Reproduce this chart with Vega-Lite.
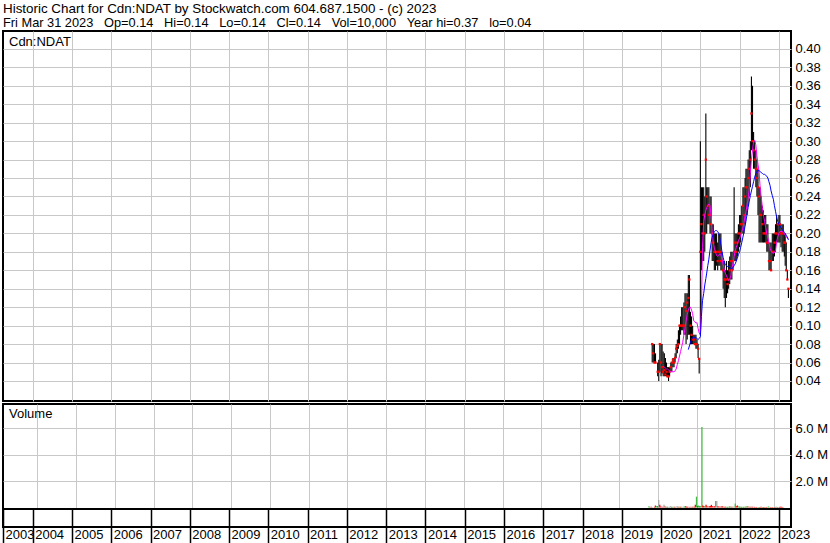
{
"$schema":"https://vega.github.io/schema/vega-lite/v6.json",
"background":"white",
"padding":{"left":1,"top":1,"right":0,"bottom":0},
"bounds":"flush",
"title":{"text":"Historic Chart for Cdn:NDAT by Stockwatch.com 604.687.1500 - (c) 2023","subtitle":"Fri Mar 31 2023 \u00a0\u00a0Op=0.14 \u00a0\u00a0Hi=0.14 \u00a0\u00a0Lo=0.14 \u00a0\u00a0Cl=0.14 \u00a0\u00a0Vol=10,000 \u00a0\u00a0Year hi=0.37 \u00a0\u00a0lo=0.04","anchor":"start","fontSize":13.4,"fontWeight":"normal","font":"Liberation Sans","color":"black","subtitleFontSize":12.8,"subtitleFont":"Liberation Sans","subtitleColor":"black","subtitlePadding":1.5,"offset":0.5,"frame":"group"},
"config":{"view":{"stroke":"black","strokeWidth":2},"axis":{"labelFont":"Liberation Sans","labelColor":"black","labelFontSize":13,"labelOverlap":false,"gridColor":"#c8c8c8","gridWidth":1,"title":null,"titleFont":"Liberation Sans","titleFontSize":13,"titleFontWeight":"normal","titleColor":"black"},"line":{"strokeWidth":1}},
"data":{"values":[
{"d":"2019-10-11","h":0.08,"l":0.06,"c":0.08,"v":0.1,"k":"up"},
{"d":"2019-10-21","h":0.08,"l":0.06,"c":0.07,"v":0.05,"k":"flat"},
{"d":"2019-11-01","h":0.08,"l":0.06,"c":0.06,"v":0.05,"k":"down"},
{"d":"2019-11-11","h":0.07,"l":0.06,"c":0.06,"v":0.03,"k":"flat"},
{"d":"2019-12-01","h":0.06,"l":0.045,"c":0.05,"v":0.05,"k":"down"},
{"d":"2019-12-11","h":0.063,"l":0.04,"c":0.05,"v":0.15,"k":"down"},
{"d":"2019-12-21","h":0.08,"l":0.05,"c":0.08,"v":0.1,"k":"up"},
{"d":"2020-01-01","h":0.08,"l":0.045,"c":0.06,"v":0.1,"k":"down"},
{"d":"2020-01-11","h":0.08,"l":0.048,"c":0.055,"v":0.57,"k":"flat"},
{"d":"2020-01-21","h":0.072,"l":0.045,"c":0.05,"m":0.056,"v":0.2,"k":"down"},
{"d":"2020-02-01","h":0.07,"l":0.045,"c":0.052,"m":0.055,"v":0.08,"k":"down"},
{"d":"2020-02-11","h":0.065,"l":0.045,"c":0.047,"m":0.054,"v":0.06,"k":"flat"},
{"d":"2020-02-21","h":0.06,"l":0.045,"c":0.05,"m":0.053,"v":0.05,"k":"down"},
{"d":"2020-03-01","h":0.055,"l":0.045,"c":0.045,"m":0.053,"v":0.2,"k":"flat"},
{"d":"2020-03-11","h":0.055,"l":0.04,"c":0.045,"m":0.052,"v":0.08,"k":"down"},
{"d":"2020-03-21","h":0.055,"l":0.045,"c":0.05,"m":0.051,"v":0.05,"k":"up"},
{"d":"2020-04-01","h":0.06,"l":0.05,"c":0.055,"m":0.05,"v":0.05,"k":"down"},
{"d":"2020-04-11","h":0.06,"l":0.05,"c":0.06,"m":0.05,"v":0.04,"k":"flat"},
{"d":"2020-04-21","h":0.065,"l":0.055,"c":0.063,"m":0.05,"v":0.05,"k":"up"},
{"d":"2020-05-01","h":0.065,"l":0.055,"c":0.06,"m":0.05,"v":0.1,"k":"flat"},
{"d":"2020-05-11","h":0.07,"l":0.06,"c":0.065,"m":0.051,"v":0.05,"k":"down"},
{"d":"2020-05-21","h":0.08,"l":0.065,"c":0.075,"m":0.053,"v":0.05,"k":"up"},
{"d":"2020-06-01","h":0.085,"l":0.07,"c":0.078,"m":0.058,"v":0.06,"k":"up"},
{"d":"2020-06-11","h":0.095,"l":0.075,"c":0.08,"m":0.062,"v":0.05,"k":"down"},
{"d":"2020-06-21","h":0.1,"l":0.08,"c":0.1,"m":0.067,"v":0.04,"k":"flat"},
{"d":"2020-07-01","h":0.11,"l":0.09,"c":0.1,"m":0.072,"v":0.1,"k":"flat"},
{"d":"2020-07-11","h":0.12,"l":0.095,"c":0.1,"m":0.077,"v":0.05,"k":"down"},
{"d":"2020-07-21","h":0.12,"l":0.095,"c":0.1,"m":0.082,"v":0.05,"k":"up"},
{"d":"2020-08-01","h":0.125,"l":0.09,"c":0.1,"m":0.09,"v":0.06,"k":"down"},
{"d":"2020-08-11","h":0.135,"l":0.09,"c":0.12,"m":0.097,"v":0.05,"k":"up"},
{"d":"2020-08-21","h":0.135,"l":0.08,"c":0.116,"m":0.105,"v":0.05,"k":"flat"},
{"d":"2020-09-01","h":0.135,"l":0.085,"c":0.125,"m":0.112,"v":0.06,"k":"up"},
{"d":"2020-09-11","h":0.155,"l":0.09,"c":0.13,"m":0.117,"b":0.074,"v":0.08,"k":"up"},
{"d":"2020-09-21","h":0.155,"l":0.09,"c":0.15,"m":0.12,"b":0.078,"v":0.1,"k":"down"},
{"d":"2020-10-01","h":0.115,"l":0.08,"c":0.1,"m":0.12,"b":0.082,"v":0.06,"k":"down"},
{"d":"2020-10-11","h":0.11,"l":0.08,"c":0.09,"m":0.117,"b":0.085,"v":0.05,"k":"down"},
{"d":"2020-10-21","h":0.1,"l":0.08,"c":0.085,"m":0.113,"b":0.087,"v":0.04,"k":"flat"},
{"d":"2020-11-01","h":0.09,"l":0.08,"c":0.085,"m":0.105,"b":0.087,"v":0.05,"k":"down"},
{"d":"2020-11-11","h":0.09,"l":0.08,"c":0.08,"m":0.104,"b":0.087,"v":0.04,"k":"flat"},
{"d":"2020-11-21","h":0.09,"l":0.075,"c":0.08,"m":0.103,"b":0.087,"v":0.05,"k":"down"},
{"d":"2020-12-01","h":0.085,"l":0.075,"c":0.08,"m":0.103,"b":0.086,"v":0.05,"k":"up"},
{"d":"2020-12-11","h":0.08,"l":0.065,"c":0.075,"m":0.097,"b":0.085,"v":0.06,"k":"down"},
{"d":"2020-12-21","h":0.065,"l":0.048,"c":0.064,"m":0.092,"b":0.086,"v":0.2,"k":"down"},
{"d":"2021-01-01","h":0.3,"l":0.09,"c":0.18,"m":0.09,"b":0.088,"v":0.82,"k":"up"},
{"d":"2021-01-11","h":0.25,"l":0.16,"c":0.21,"m":0.12,"b":0.11,"v":0.1,"k":"down"},
{"d":"2021-01-21","h":0.25,"l":0.17,"c":0.2,"m":0.185,"b":0.127,"v":0.15,"k":"up"},
{"d":"2021-02-01","h":0.25,"l":0.17,"c":0.22,"m":0.213,"b":0.135,"v":0.1,"k":"down"},
{"d":"2021-02-11","h":0.24,"l":0.18,"c":0.2,"m":0.22,"b":0.144,"v":0.12,"k":"up"},
{"d":"2021-02-21","h":0.33,"l":0.2,"c":0.28,"m":0.225,"b":0.151,"v":6.1,"k":"up"},
{"d":"2021-03-01","h":0.25,"l":0.2,"c":0.24,"m":0.228,"b":0.157,"v":0.15,"k":"down"},
{"d":"2021-03-11","h":0.25,"l":0.21,"c":0.23,"m":0.23,"b":0.165,"v":0.12,"k":"down"},
{"d":"2021-03-21","h":0.25,"l":0.21,"c":0.22,"m":0.232,"b":0.172,"v":0.1,"k":"up"},
{"d":"2021-04-01","h":0.24,"l":0.2,"c":0.22,"m":0.23,"b":0.182,"v":0.2,"k":"down"},
{"d":"2021-04-11","h":0.24,"l":0.2,"c":0.21,"m":0.218,"b":0.19,"v":0.1,"k":"down"},
{"d":"2021-04-21","h":0.21,"l":0.17,"c":0.2,"m":0.2,"b":0.196,"v":0.08,"k":"flat"},
{"d":"2021-05-01","h":0.21,"l":0.17,"c":0.19,"m":0.19,"b":0.199,"v":0.1,"k":"down"},
{"d":"2021-05-11","h":0.2,"l":0.16,"c":0.18,"m":0.184,"b":0.202,"v":0.12,"k":"down"},
{"d":"2021-05-21","h":0.2,"l":0.16,"c":0.18,"m":0.18,"b":0.203,"v":0.2,"k":"down"},
{"d":"2021-06-01","h":0.2,"l":0.165,"c":0.18,"m":0.176,"b":0.203,"v":0.1,"k":"down"},
{"d":"2021-06-11","h":0.19,"l":0.16,"c":0.17,"m":0.175,"b":0.202,"v":0.08,"k":"up"},
{"d":"2021-06-21","h":0.2,"l":0.165,"c":0.18,"m":0.176,"b":0.2,"v":0.1,"k":"down"},
{"d":"2021-07-01","h":0.2,"l":0.165,"c":0.18,"m":0.178,"b":0.195,"v":0.5,"k":"up"},
{"d":"2021-07-11","h":0.2,"l":0.16,"c":0.17,"m":0.177,"b":0.188,"v":0.5,"k":"flat"},
{"d":"2021-07-21","h":0.18,"l":0.16,"c":0.17,"m":0.172,"b":0.18,"v":0.1,"k":"down"},
{"d":"2021-08-01","h":0.17,"l":0.14,"c":0.16,"m":0.166,"b":0.174,"v":0.08,"k":"down"},
{"d":"2021-08-11","h":0.17,"l":0.13,"c":0.15,"m":0.161,"b":0.169,"v":0.06,"k":"flat"},
{"d":"2021-08-21","h":0.16,"l":0.12,"c":0.15,"m":0.157,"b":0.166,"v":0.08,"k":"down"},
{"d":"2021-09-01","h":0.17,"l":0.13,"c":0.15,"m":0.154,"b":0.165,"v":0.1,"k":"down"},
{"d":"2021-09-11","h":0.16,"l":0.135,"c":0.145,"m":0.151,"b":0.164,"v":0.06,"k":"up"},
{"d":"2021-09-21","h":0.17,"l":0.14,"c":0.15,"m":0.149,"b":0.164,"v":0.05,"k":"down"},
{"d":"2021-10-01","h":0.175,"l":0.145,"c":0.16,"m":0.15,"b":0.163,"v":0.06,"k":"down"},
{"d":"2021-10-11","h":0.18,"l":0.15,"c":0.17,"m":0.154,"b":0.162,"v":0.05,"k":"up"},
{"d":"2021-10-21","h":0.18,"l":0.15,"c":0.16,"m":0.162,"b":0.162,"v":0.05,"k":"down"},
{"d":"2021-11-01","h":0.18,"l":0.16,"c":0.17,"m":0.168,"b":0.163,"v":0.06,"k":"up"},
{"d":"2021-11-11","h":0.25,"l":0.17,"c":0.18,"m":0.175,"b":0.165,"v":0.08,"k":"down"},
{"d":"2021-11-21","h":0.2,"l":0.17,"c":0.19,"m":0.181,"b":0.167,"v":0.06,"k":"up"},
{"d":"2021-12-01","h":0.2,"l":0.17,"c":0.18,"m":0.185,"b":0.17,"v":0.05,"k":"down"},
{"d":"2021-12-11","h":0.2,"l":0.175,"c":0.19,"m":0.188,"b":0.173,"v":0.05,"k":"flat"},
{"d":"2021-12-21","h":0.21,"l":0.18,"c":0.2,"m":0.192,"b":0.177,"v":0.06,"k":"up"},
{"d":"2022-01-01","h":0.22,"l":0.185,"c":0.2,"m":0.195,"b":0.18,"v":0.3,"k":"up"},
{"d":"2022-01-11","h":0.22,"l":0.19,"c":0.21,"m":0.198,"b":0.185,"v":0.1,"k":"down"},
{"d":"2022-01-21","h":0.23,"l":0.2,"c":0.21,"m":0.202,"b":0.19,"v":0.15,"k":"down"},
{"d":"2022-02-01","h":0.25,"l":0.2,"c":0.23,"m":0.206,"b":0.196,"v":0.08,"k":"up"},
{"d":"2022-02-11","h":0.25,"l":0.2,"c":0.22,"m":0.212,"b":0.202,"v":0.06,"k":"down"},
{"d":"2022-02-21","h":0.26,"l":0.21,"c":0.24,"m":0.219,"b":0.208,"v":0.06,"k":"up"},
{"d":"2022-03-01","h":0.27,"l":0.22,"c":0.25,"m":0.224,"b":0.213,"v":0.05,"k":"down"},
{"d":"2022-03-11","h":0.27,"l":0.22,"c":0.25,"m":0.23,"b":0.221,"v":0.05,"k":"up"},
{"d":"2022-03-21","h":0.28,"l":0.23,"c":0.26,"m":0.238,"b":0.228,"v":0.05,"k":"down"},
{"d":"2022-04-01","h":0.29,"l":0.24,"c":0.27,"m":0.248,"b":0.235,"v":0.06,"k":"up"},
{"d":"2022-04-11","h":0.3,"l":0.25,"c":0.28,"m":0.265,"b":0.241,"v":0.06,"k":"down"},
{"d":"2022-04-21","h":0.37,"l":0.29,"c":0.33,"m":0.28,"b":0.246,"v":0.1,"k":"up"},
{"d":"2022-05-01","h":0.36,"l":0.29,"c":0.3,"m":0.29,"b":0.251,"v":0.08,"k":"down"},
{"d":"2022-05-11","h":0.31,"l":0.27,"c":0.29,"m":0.3,"b":0.256,"v":0.06,"k":"flat"},
{"d":"2022-05-21","h":0.3,"l":0.27,"c":0.28,"m":0.301,"b":0.261,"v":0.05,"k":"down"},
{"d":"2022-06-01","h":0.29,"l":0.25,"c":0.27,"m":0.296,"b":0.265,"v":0.05,"k":"up"},
{"d":"2022-06-11","h":0.28,"l":0.24,"c":0.26,"m":0.284,"b":0.267,"v":0.05,"k":"down"},
{"d":"2022-06-21","h":0.27,"l":0.22,"c":0.25,"m":0.275,"b":0.268,"v":0.05,"k":"flat"},
{"d":"2022-07-01","h":0.25,"l":0.19,"c":0.24,"m":0.267,"b":0.268,"v":0.05,"k":"down"},
{"d":"2022-07-11","h":0.25,"l":0.19,"c":0.22,"m":0.25,"b":0.267,"v":0.04,"k":"up"},
{"d":"2022-07-21","h":0.24,"l":0.19,"c":0.22,"m":0.24,"b":0.266,"v":0.04,"k":"down"},
{"d":"2022-08-01","h":0.23,"l":0.19,"c":0.21,"m":0.228,"b":0.265,"v":0.04,"k":"flat"},
{"d":"2022-08-11","h":0.225,"l":0.19,"c":0.2,"m":0.22,"b":0.264,"v":0.04,"k":"up"},
{"d":"2022-08-21","h":0.22,"l":0.19,"c":0.2,"m":0.213,"b":0.264,"v":0.04,"k":"down"},
{"d":"2022-09-01","h":0.22,"l":0.19,"c":0.2,"m":0.206,"b":0.263,"v":0.05,"k":"down"},
{"d":"2022-09-11","h":0.21,"l":0.18,"c":0.19,"m":0.2,"b":0.262,"v":0.04,"k":"up"},
{"d":"2022-09-21","h":0.21,"l":0.18,"c":0.19,"m":0.195,"b":0.26,"v":0.04,"k":"down"},
{"d":"2022-10-01","h":0.19,"l":0.16,"c":0.17,"m":0.19,"b":0.256,"v":0.04,"k":"down"},
{"d":"2022-10-11","h":0.19,"l":0.16,"c":0.17,"m":0.184,"b":0.252,"v":0.03,"k":"up"},
{"d":"2022-10-21","h":0.19,"l":0.16,"c":0.16,"m":0.181,"b":0.246,"v":0.04,"k":"down"},
{"d":"2022-11-01","h":0.2,"l":0.17,"c":0.18,"m":0.179,"b":0.241,"v":0.05,"k":"up"},
{"d":"2022-11-11","h":0.2,"l":0.17,"c":0.18,"m":0.178,"b":0.237,"v":0.08,"k":"up"},
{"d":"2022-11-21","h":0.2,"l":0.175,"c":0.19,"m":0.179,"b":0.23,"v":0.04,"k":"flat"},
{"d":"2022-12-01","h":0.21,"l":0.18,"c":0.2,"m":0.182,"b":0.224,"v":0.04,"k":"down"},
{"d":"2022-12-11","h":0.22,"l":0.19,"c":0.2,"m":0.19,"b":0.218,"v":0.04,"k":"up"},
{"d":"2022-12-21","h":0.21,"l":0.19,"c":0.21,"m":0.196,"b":0.213,"v":0.03,"k":"down"},
{"d":"2023-01-01","h":0.22,"l":0.19,"c":0.21,"m":0.2,"b":0.21,"v":0.04,"k":"flat"},
{"d":"2023-01-11","h":0.22,"l":0.19,"c":0.21,"m":0.202,"b":0.208,"v":0.04,"k":"down"},
{"d":"2023-01-21","h":0.21,"l":0.185,"c":0.2,"m":0.202,"b":0.206,"v":0.05,"k":"up"},
{"d":"2023-02-01","h":0.21,"l":0.18,"c":0.2,"m":0.202,"b":0.204,"v":0.04,"k":"down"},
{"d":"2023-02-11","h":0.21,"l":0.18,"c":0.2,"m":0.201,"b":0.203,"v":0.04,"k":"flat"},
{"d":"2023-02-21","h":0.2,"l":0.175,"c":0.19,"m":0.2,"b":0.201,"v":0.04,"k":"down"},
{"d":"2023-03-01","h":0.2,"l":0.165,"c":0.19,"m":0.198,"b":0.2,"v":0.05,"k":"down"},
{"d":"2023-03-11","h":0.19,"l":0.16,"c":0.16,"m":0.196,"b":0.198,"v":0.05,"k":"down"},
{"d":"2023-03-21","h":0.16,"l":0.15,"c":0.15,"m":0.195,"b":0.196,"v":0.04,"k":"down"},
{"d":"2023-03-31","h":0.14,"l":0.13,"c":0.14,"m":0.194,"b":0.193,"v":0.04,"k":"flat"}
]},
"spacing":3,
"vconcat":[
{"width":788,"height":370,
 "encoding":{"x":{"field":"d","type":"temporal","scale":{"type":"utc","domain":[{"year":2003,"month":3,"date":31,"utc":true},{"year":2023,"month":4,"date":24,"utc":true}]},
   "axis":{"orient":"bottom","values":[{"year":2004,"utc":true},{"year":2005,"utc":true},{"year":2006,"utc":true},{"year":2007,"utc":true},{"year":2008,"utc":true},{"year":2009,"utc":true},{"year":2010,"utc":true},{"year":2011,"utc":true},{"year":2012,"utc":true},{"year":2013,"utc":true},{"year":2014,"utc":true},{"year":2015,"utc":true},{"year":2016,"utc":true},{"year":2017,"utc":true},{"year":2018,"utc":true},{"year":2019,"utc":true},{"year":2020,"utc":true},{"year":2021,"utc":true},{"year":2022,"utc":true},{"year":2023,"utc":true}],"grid":true,"labels":false,"ticks":false,"domain":false,
    "title":"Cdn:NDAT","titleX":5.5,"titleY":-355.3,"titleAlign":"left","titleAnchor":"start","titleBaseline":"alphabetic","titlePadding":0}}},
 "layer":[
  {"mark":{"type":"rule","color":"black","strokeWidth":1.1},
   "encoding":{"y":{"field":"h","type":"quantitative","scale":{"domain":[0.0183,0.4194],"nice":false,"zero":false},
     "axis":{"orient":"right","values":[0.04,0.06,0.08,0.1,0.12,0.14,0.16,0.18,0.2,0.22,0.24,0.26,0.28,0.3,0.32,0.34,0.36,0.38,0.4],"format":".2f","grid":true,"ticks":false,"domain":false,"labelAlign":"left","labelPadding":4,"labelBaseline":"middle","labelOverlap":false}},
    "y2":{"field":"l"}}},
  {"mark":{"type":"square","color":"#ff0000","size":5,"opacity":1},
   "encoding":{"y":{"field":"c","type":"quantitative","scale":{"domain":[0.0183,0.4194],"nice":false,"zero":false},
     "axis":{"orient":"right","values":[0.04,0.06,0.08,0.1,0.12,0.14,0.16,0.18,0.2,0.22,0.24,0.26,0.28,0.3,0.32,0.34,0.36,0.38,0.4],"format":".2f","grid":true,"ticks":false,"domain":false,"labelAlign":"left","labelPadding":4,"labelBaseline":"middle","labelOverlap":false}}}},
  {"mark":{"type":"line","color":"#ff00ff","strokeWidth":1},
   "encoding":{"y":{"field":"m","type":"quantitative","scale":{"domain":[0.0183,0.4194],"nice":false,"zero":false},
     "axis":{"orient":"right","values":[0.04,0.06,0.08,0.1,0.12,0.14,0.16,0.18,0.2,0.22,0.24,0.26,0.28,0.3,0.32,0.34,0.36,0.38,0.4],"format":".2f","grid":true,"ticks":false,"domain":false,"labelAlign":"left","labelPadding":4,"labelBaseline":"middle","labelOverlap":false}}}},
  {"mark":{"type":"line","color":"#0000ff","strokeWidth":1},
   "encoding":{"y":{"field":"b","type":"quantitative","scale":{"domain":[0.0183,0.4194],"nice":false,"zero":false},
     "axis":{"orient":"right","values":[0.04,0.06,0.08,0.1,0.12,0.14,0.16,0.18,0.2,0.22,0.24,0.26,0.28,0.3,0.32,0.34,0.36,0.38,0.4],"format":".2f","grid":true,"ticks":false,"domain":false,"labelAlign":"left","labelPadding":4,"labelBaseline":"middle","labelOverlap":false}}}}
 ]},
{"spacing":0,
 "bounds":"flush",
 "vconcat":[
  {"width":788,"height":105,
   "mark":{"type":"bar","width":1.3},
   "encoding":{
    "x":{"field":"d","type":"temporal","scale":{"type":"utc","domain":[{"year":2003,"month":3,"date":31,"utc":true},{"year":2023,"month":4,"date":24,"utc":true}]},
     "axis":{"orient":"bottom","values":[{"year":2004,"utc":true},{"year":2005,"utc":true},{"year":2006,"utc":true},{"year":2007,"utc":true},{"year":2008,"utc":true},{"year":2009,"utc":true},{"year":2010,"utc":true},{"year":2011,"utc":true},{"year":2012,"utc":true},{"year":2013,"utc":true},{"year":2014,"utc":true},{"year":2015,"utc":true},{"year":2016,"utc":true},{"year":2017,"utc":true},{"year":2018,"utc":true},{"year":2019,"utc":true},{"year":2020,"utc":true},{"year":2021,"utc":true},{"year":2022,"utc":true},{"year":2023,"utc":true}],"grid":true,"labels":false,"ticks":false,"domain":false,
      "title":"Volume","titleX":5.5,"titleY":-91.5,"titleAlign":"left","titleAnchor":"start","titleBaseline":"alphabetic","titlePadding":0}},
    "y":{"field":"v","type":"quantitative","scale":{"domain":[-0.114,7.841],"nice":false,"zero":false},
     "axis":{"orient":"right","values":[2,4,6],"labelExpr":"format(datum.value,'.1f') + ' M'","grid":true,"ticks":false,"domain":false,"labelAlign":"left","labelPadding":4,"labelBaseline":"middle","labelOverlap":false}},
    "y2":{"datum":0},
    "color":{"field":"k","type":"nominal","scale":{"domain":["up","down","flat"],"range":["#44bb44","#ff0000","#a8a8a8"]},"legend":null}}},
  {"width":788,"height":18,
   "mark":{"type":"rule","opacity":0},
   "encoding":{
    "x":{"field":"d","type":"temporal","scale":{"type":"utc","domain":[{"year":2003,"month":3,"date":31,"utc":true},{"year":2023,"month":4,"date":24,"utc":true}]},
     "axis":{"orient":"bottom","values":[{"year":2003,"month":3,"date":31,"utc":true},{"year":2004,"utc":true},{"year":2005,"utc":true},{"year":2006,"utc":true},{"year":2007,"utc":true},{"year":2008,"utc":true},{"year":2009,"utc":true},{"year":2010,"utc":true},{"year":2011,"utc":true},{"year":2012,"utc":true},{"year":2013,"utc":true},{"year":2014,"utc":true},{"year":2015,"utc":true},{"year":2016,"utc":true},{"year":2017,"utc":true},{"year":2018,"utc":true},{"year":2019,"utc":true},{"year":2020,"utc":true},{"year":2021,"utc":true},{"year":2022,"utc":true},{"year":2023,"utc":true}],
      "labelExpr":"utcFormat(datum.value,'%Y')","grid":true,"gridColor":"black","gridWidth":1.5,"ticks":true,"tickColor":"black","tickSize":16,"tickWidth":1.5,"domain":false,"labelAlign":"left","labelOffset":2,"labelPadding":-5,"labelBaseline":"alphabetic","labelFlush":false,"labelOverlap":false,"labelBound":false}}}}
 ]}
]
}
